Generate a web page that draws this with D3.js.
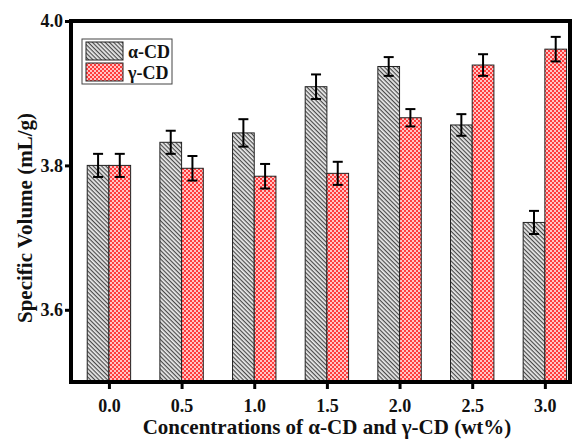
<!DOCTYPE html>
<html>
<head>
<meta charset="utf-8">
<script src="https://cdn.jsdelivr.net/npm/d3@7"></script>
<style>
body { margin: 0; background: #fff; }
svg text { font-family: "Liberation Serif", "Times New Roman", serif; font-weight: bold; fill: #111; }
</style>
</head>
<body>
<div id="canvas"></div>
<script>
var concentrations = [0.0, 0.5, 1.0, 1.5, 2.0, 2.5, 3.0];
var tickLabels = ["0.0", "0.5", "1.0", "1.5", "2.0", "2.5", "3.0"];
var alphaValues = [3.800, 3.832, 3.845, 3.909, 3.937, 3.856, 3.721];
var alphaErrors = [0.016, 0.016, 0.019, 0.017, 0.013, 0.015, 0.016];
var gammaValues = [3.800, 3.796, 3.785, 3.789, 3.866, 3.939, 3.961];
var gammaErrors = [0.016, 0.017, 0.017, 0.016, 0.012, 0.015, 0.017];
var seriesNames = ["\u03b1-CD", "\u03b3-CD"];
var yTicks = [3.6, 3.8, 4.0];

var width = 572, height = 439;
var plotLeft = 71, plotRight = 570, plotTop = 21, plotBottom = 382;
var barWidth = 21.7;

var svg = d3.select("#canvas")
	.append("svg")
	.attr("width", width)
	.attr("height", height);

var defs = svg.append("defs");

// diagonal hatch for alpha
var hatch = defs.append("pattern")
	.attr("id", "hatch")
	.attr("patternUnits", "userSpaceOnUse")
	.attr("width", 3)
	.attr("height", 3)
	.attr("patternTransform", "rotate(45)");
hatch.append("rect").attr("width", 3).attr("height", 3).attr("fill", "#ececec");
hatch.append("rect").attr("width", 3).attr("height", 1.2).attr("fill", "#4a4a4a");

// red checker for gamma
var checker = defs.append("pattern")
	.attr("id", "checker")
	.attr("patternUnits", "userSpaceOnUse")
	.attr("width", 4)
	.attr("height", 4);
checker.append("rect").attr("width", 4).attr("height", 4).attr("fill", "#ff3c3c");
checker.append("rect").attr("width", 2).attr("height", 2).attr("fill", "#ffc4c4");
checker.append("rect").attr("x", 2).attr("y", 2).attr("width", 2).attr("height", 2).attr("fill", "#ffc4c4");

var x = d3.scaleLinear().domain([-0.261, 3.173]).range([plotLeft, plotRight]);
var y = d3.scaleLinear().domain([3.5, 4.0]).range([plotBottom, plotTop]);

var series = [
	{ name: seriesNames[0], values: alphaValues, errors: alphaErrors, fill: "url(#hatch)", offset: -1 },
	{ name: seriesNames[1], values: gammaValues, errors: gammaErrors, fill: "url(#checker)", offset: 0 }
];

var bars = svg.append("g");
series.forEach(function (s) {
	bars.selectAll(null)
		.data(s.values)
		.enter()
		.append("rect")
		.attr("x", function (d, i) { return x(concentrations[i]) + s.offset * barWidth; })
		.attr("y", function (d) { return y(d); })
		.attr("width", barWidth)
		.attr("height", function (d) { return plotBottom - y(d); })
		.attr("fill", s.fill)
		.attr("stroke", "#222")
		.attr("stroke-width", 1);
});

// error bars
var errs = svg.append("g").attr("stroke", "#000").attr("stroke-width", 2);
series.forEach(function (s) {
	s.values.forEach(function (v, i) {
		var cx = x(concentrations[i]) + (s.offset + 0.5) * barWidth;
		var y1 = y(v + s.errors[i]), y2 = y(v - s.errors[i]);
		errs.append("line").attr("x1", cx).attr("x2", cx).attr("y1", y1).attr("y2", y2);
		errs.append("line").attr("x1", cx - 5).attr("x2", cx + 5).attr("y1", y1).attr("y2", y1);
		errs.append("line").attr("x1", cx - 5).attr("x2", cx + 5).attr("y1", y2).attr("y2", y2);
	});
});

// frame
var frame = svg.append("g").attr("stroke", "#000").attr("stroke-width", 4).attr("fill", "none");
frame.append("line").attr("x1", plotLeft).attr("x2", plotLeft).attr("y1", plotTop - 2).attr("y2", plotBottom + 2);
frame.append("line").attr("x1", plotLeft - 2).attr("x2", plotRight + 2).attr("y1", plotBottom).attr("y2", plotBottom);
frame.append("line").attr("x1", plotLeft - 2).attr("x2", plotRight + 2).attr("y1", plotTop).attr("y2", plotTop);
frame.append("line").attr("x1", plotRight).attr("x2", plotRight).attr("y1", plotTop - 2).attr("y2", plotBottom + 2);

// axes
var xAxis = svg.append("g")
	.attr("transform", "translate(0," + (plotBottom + 2) + ")")
	.call(d3.axisBottom(x).tickValues(concentrations)
		.tickFormat(function (d, i) { return tickLabels[i]; })
		.tickSize(5).tickPadding(10));
xAxis.select(".domain").remove();
xAxis.selectAll(".tick line").attr("stroke", "#000").attr("stroke-width", 3);
xAxis.selectAll(".tick text").style("font-size", "18px");

var yAxis = svg.append("g")
	.attr("transform", "translate(" + (plotLeft - 2) + ",0)")
	.call(d3.axisLeft(y).tickValues(yTicks).tickFormat(d3.format(".1f")).tickSize(4).tickPadding(2));
yAxis.select(".domain").remove();
yAxis.selectAll(".tick line").attr("stroke", "#000").attr("stroke-width", 3);
yAxis.selectAll(".tick text").style("font-size", "18px");

// axis titles
svg.append("text")
	.attr("x", 327)
	.attr("y", 434)
	.attr("text-anchor", "middle")
	.style("font-size", "21px")
	.text("Concentrations of \u03b1-CD and \u03b3-CD (wt%)");

svg.append("text")
	.attr("transform", "translate(32,218) rotate(-90)")
	.attr("text-anchor", "middle")
	.style("font-size", "21px")
	.text("Specific Volume (mL/g)");

// legend
var legend = svg.append("g");
legend.append("rect")
	.attr("x", 82).attr("y", 39).attr("width", 90).attr("height", 45)
	.attr("fill", "#fff").attr("stroke", "#444").attr("stroke-width", 1);
series.forEach(function (s, i) {
	legend.append("rect")
		.attr("x", 86).attr("y", 42 + i * 21).attr("width", 37).attr("height", 18)
		.attr("fill", s.fill).attr("stroke", "#222").attr("stroke-width", 1);
	legend.append("text")
		.attr("x", 128).attr("y", 58 + i * 21)
		.style("font-size", "18px")
		.text(s.name);
});
</script>
</body>
</html>
